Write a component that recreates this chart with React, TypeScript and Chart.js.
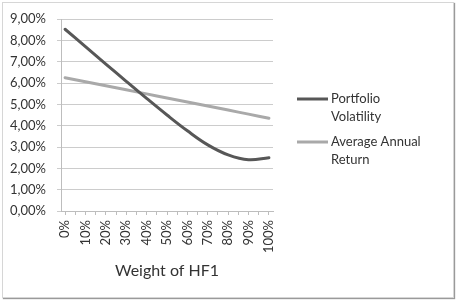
import React, { useEffect, useRef } from 'react';
import { Chart, registerables } from 'chart.js';

Chart.register(...registerables);

// Weight of HF1 in the portfolio (%)
const weights = [0, 10, 20, 30, 40, 50, 60, 70, 80, 90, 100];
const weightLabels = ['0%', '10%', '20%', '30%', '40%', '50%', '60%', '70%', '80%', '90%', '100%'];

// Series values (%)
const portfolioVolatility = [8.52, 7.71, 6.89, 6.08, 5.28, 4.5, 3.76, 3.1, 2.63, 2.4, 2.5];
const averageAnnualReturn = [6.25, 6.06, 5.87, 5.68, 5.49, 5.3, 5.11, 4.92, 4.73, 4.54, 4.35];

// Y axis ticks
const yTickValues = [0, 1, 2, 3, 4, 5, 6, 7, 8, 9];
const yTickLabels = ['0,00%', '1,00%', '2,00%', '3,00%', '4,00%', '5,00%', '6,00%', '7,00%', '8,00%', '9,00%'];

const seriesNames = [['Portfolio', 'Volatility'], ['Average Annual', 'Return']];
const seriesColors = ['#575757', '#a9a9a9'];

const FONT = 'Lato, "Liberation Sans", sans-serif';
const TEXT = '#333333';

// Legend drawn to the right of the plot, with wrapped labels
const sideLegend = {
  id: 'sideLegend',
  afterDraw(chart: any) {
    const { ctx, chartArea } = chart;
    const x0 = chartArea.right + 24;
    const lineLen = 31;
    let y = chartArea.top + 80;
    ctx.save();
    ctx.font = `13px ${FONT}`;
    ctx.textBaseline = 'middle';
    ctx.textAlign = 'left';
    chart.data.datasets.forEach((ds: any) => {
      ctx.strokeStyle = ds.borderColor;
      ctx.lineWidth = 3;
      ctx.beginPath();
      ctx.moveTo(x0, y);
      ctx.lineTo(x0 + lineLen, y);
      ctx.stroke();
      ctx.fillStyle = TEXT;
      const lines: string[] = ds.legendLines;
      lines.forEach((t, i) => ctx.fillText(t, x0 + lineLen + 3, y + i * 17.5));
      y += 43;
    });
    ctx.restore();
  },
};

export default function App() {
  const canvasRef = useRef<HTMLCanvasElement | null>(null);

  useEffect(() => {
    const canvas = canvasRef.current;
    if (!canvas) return;
    const tickMarks: number[] = [];
    for (let i = 0; i < weights.length; i++) {
      tickMarks.push(weights[i]);
      if (i < weights.length - 1) tickMarks.push((weights[i] + weights[i + 1]) / 2);
    }

    const chart = new Chart(canvas, {
      type: 'line',
      data: {
        datasets: [
          {
            label: 'Portfolio Volatility',
            legendLines: seriesNames[0],
            data: weights.map((w, i) => ({ x: w, y: portfolioVolatility[i] })),
            borderColor: seriesColors[0],
            backgroundColor: seriesColors[0],
            borderWidth: 3,
            pointRadius: 0,
            tension: 0.4,
            borderCapStyle: 'round',
          } as any,
          {
            label: 'Average Annual Return',
            legendLines: seriesNames[1],
            data: weights.map((w, i) => ({ x: w, y: averageAnnualReturn[i] })),
            borderColor: seriesColors[1],
            backgroundColor: seriesColors[1],
            borderWidth: 3,
            pointRadius: 0,
            tension: 0.4,
            borderCapStyle: 'round',
          } as any,
        ],
      },
      options: {
        animation: false,
        responsive: false,
        devicePixelRatio: 1,
        layout: { padding: { left: 0, top: 19, right: 183, bottom: 0 } },
        plugins: {
          legend: { display: false },
          tooltip: { enabled: false },
        },
        scales: {
          x: {
            type: 'linear',
            min: -2,
            max: 102,
            afterBuildTicks: (scale: any) => {
              scale.ticks = tickMarks.map((v) => ({ value: v }));
            },
            afterFit: (scale: any) => {
              scale.height = 92;
            },
            ticks: {
              autoSkip: false,
              minRotation: 90,
              maxRotation: 90,
              padding: 5,
              color: TEXT,
              font: { family: FONT, size: 13 },
              callback: (v: any) => {
                const idx = weights.indexOf(Number(v));
                return idx >= 0 ? weightLabels[idx] : '';
              },
            },
            grid: {
              drawOnChartArea: false,
              drawTicks: true,
              tickLength: 4,
              color: '#bdbdbd',
            },
            border: { display: true, color: '#bdbdbd' },
            title: {
              display: true,
              text: 'Weight of HF1',
              color: TEXT,
              font: { family: FONT, size: 16 },
              padding: { top: 0, bottom: 23 },
            },
          },
          y: {
            type: 'linear',
            min: 0,
            max: 9,
            afterBuildTicks: (scale: any) => {
              scale.ticks = yTickValues.map((v) => ({ value: v }));
            },
            afterFit: (scale: any) => {
              scale.width = 61;
            },
            ticks: {
              padding: 11,
              color: TEXT,
              font: { family: FONT, size: 13 },
              callback: (v: any) => {
                const idx = yTickValues.indexOf(Number(v));
                return idx >= 0 ? yTickLabels[idx] : '';
              },
            },
            grid: {
              color: '#cccccc',
              drawTicks: true,
              tickLength: 4,
            },
            border: { display: true, color: '#bdbdbd' },
          },
        },
      },
      plugins: [sideLegend],
    } as any);

    return () => chart.destroy();
  }, []);

  return (
    <div style={{ position: 'fixed', left: 0, top: 0, width: 456, height: 303, background: '#ffffff' }}>
      <canvas
        ref={canvasRef}
        width={456}
        height={303}
        style={{ position: 'absolute', left: 0, top: 0, width: 456, height: 303 }}
      />
      <div
        style={{
          position: 'absolute',
          left: 2,
          top: 2,
          width: 452,
          height: 296,
          boxSizing: 'border-box',
          border: '1px solid #d6d6d6',
          boxShadow: '1px 1px 1px #9a9a9a',
          pointerEvents: 'none',
        }}
      />
    </div>
  );
}
